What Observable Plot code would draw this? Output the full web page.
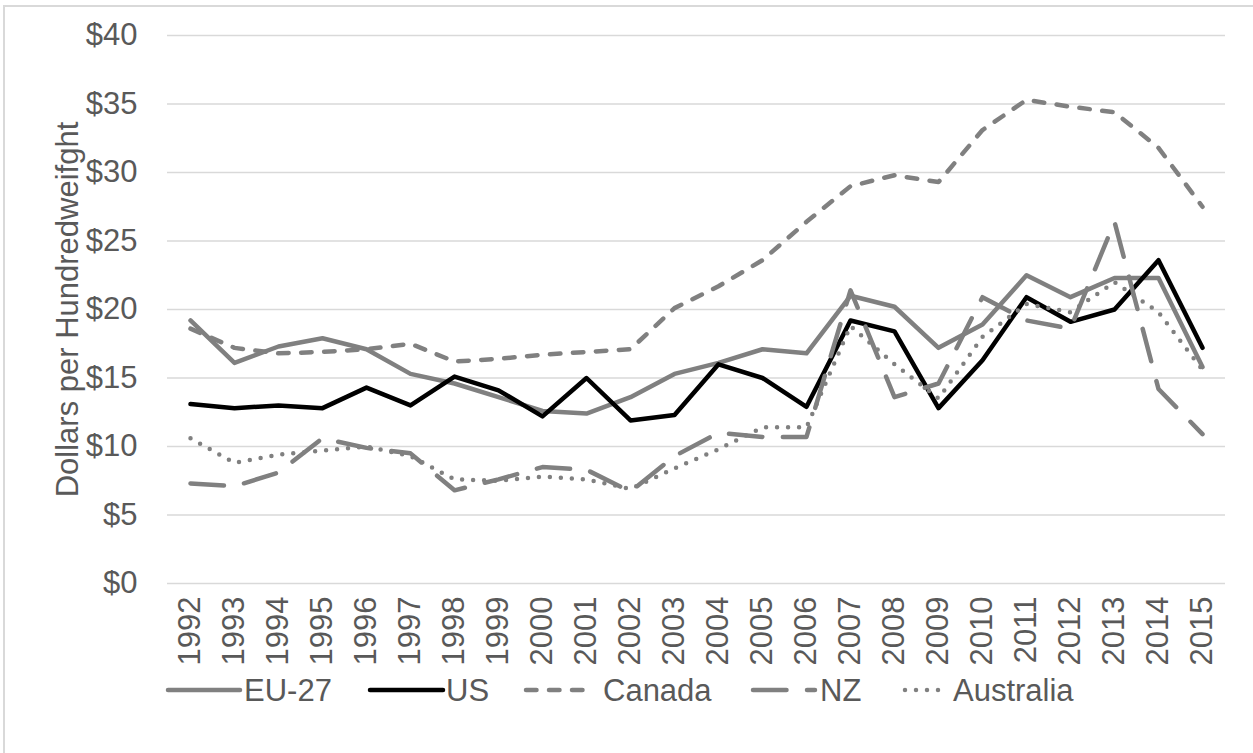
<!DOCTYPE html>
<html>
<head>
<meta charset="utf-8">
<script src="https://cdn.jsdelivr.net/npm/d3@7"></script>
<script src="https://cdn.jsdelivr.net/npm/@observablehq/plot@0.6"></script>
<style>
  html, body { margin: 0; padding: 0; background: #fff; }
  body { width: 1253px; height: 753px; overflow: hidden; position: relative; font-family: "Liberation Sans", Arial, sans-serif; }
  #frame { position: absolute; left: 3px; top: 5px; width: 1300px; height: 800px; border-left: 2px solid #d9d9d9; border-top: 2px solid #d9d9d9; box-sizing: border-box; }
  #chart { position: absolute; left: 0; top: 0; }
  #legend { position: absolute; left: 0; top: 0; }
</style>
</head>
<body>
<div id="frame"></div>
<div id="chart"></div>
<div id="legend"></div>
<script>
// ---- data ----
const years = [1992,1993,1994,1995,1996,1997,1998,1999,2000,2001,2002,2003,2004,2005,2006,2007,2008,2009,2010,2011,2012,2013,2014,2015];
const eu27 = [19.2,16.1,17.3,17.9,17.1,15.3,14.6,13.6,12.6,12.4,13.6,15.3,16.1,17.1,16.8,21.0,20.2,17.2,18.9,22.5,20.9,22.3,22.3,15.8];
const us = [13.1,12.8,13.0,12.8,14.3,13.0,15.1,14.1,12.2,15.0,11.9,12.3,16.0,15.0,12.9,19.2,18.4,12.8,16.3,20.9,19.1,20.0,23.6,17.2];
const canada = [18.6,17.2,16.8,16.9,17.1,17.5,16.2,16.4,16.7,16.9,17.1,20.1,21.7,23.6,26.4,29.0,29.8,29.3,33.1,35.3,34.8,34.4,31.8,27.5];
const nz = [7.3,7.1,8.1,10.6,9.9,9.5,6.8,7.6,8.5,8.3,6.7,9.3,11.0,10.7,10.7,21.4,13.6,14.6,20.9,19.2,18.6,26.4,14.2,10.9];
const australia = [10.6,8.8,9.4,9.7,10.0,9.3,7.6,7.5,7.8,7.6,6.9,8.4,9.8,11.4,11.4,18.8,16.0,13.5,18.0,20.4,19.8,22.0,19.8,15.6];
const seriesNames = ["EU-27","US","Canada","NZ","Australia"];
const yTicks = [0,5,10,15,20,25,30,35,40];
const yLabel = "Dollars per Hundredweifght";

// ---- styles ----
const gray = "#808080";
const styles = {
  "EU-27":     {stroke: gray,   strokeWidth: 4.5, dash: null},
  "US":        {stroke: "#000", strokeWidth: 4.5, dash: null},
  "Canada":    {stroke: gray,   strokeWidth: 4.5, dash: "10.5 12.5"},
  "NZ":        {stroke: gray,   strokeWidth: 4.5, dash: "33.5 20.5"},
  "Australia": {stroke: gray,   strokeWidth: 4.5, dash: "0 11"}
};
const valuesBy = {"EU-27": eu27, "US": us, "Canada": canada, "NZ": nz, "Australia": australia};
const rows = seriesNames.map(name => years.map((yr, i) => ({year: yr, value: valuesBy[name][i], series: name})));

const W = 1253, H = 753;
const FS = 31;
const textColor = "#595959";

const chart = Plot.plot({
  width: W,
  height: H,
  marginLeft: 167,
  marginRight: 28,
  marginTop: 35,
  marginBottom: H - 583,
  style: {fontFamily: "'Liberation Sans', Arial, sans-serif", fontSize: FS + "px", background: "transparent", overflow: "visible"},
  x: {type: "point", domain: years, padding: 0.5},
  y: {domain: [0, 40]},
  marks: [
    Plot.ruleY(yTicks, {stroke: "#d9d9d9", strokeWidth: 1.5}),
    Plot.axisY({ticks: yTicks, tickFormat: d => "$" + d, tickSize: 0, tickPadding: 30, fontSize: FS, color: textColor, label: null}),
    Plot.axisX({tickFormat: d => String(d), tickRotate: -90, tickSize: 0, tickPadding: 13, fontSize: FS, color: textColor, label: null}),
    Plot.text([yLabel], {frameAnchor: "left", textAnchor: "middle", lineAnchor: "middle", rotate: -90, dx: -99, fontSize: FS, fill: textColor}),
    ...rows.map(r => {
      const s = styles[r[0].series];
      return Plot.line(r, {x: "year", y: "value", stroke: s.stroke, strokeWidth: s.strokeWidth,
        strokeDasharray: s.dash || undefined, strokeLinecap: "round", strokeLinejoin: "round"});
    })
  ]
});
document.getElementById("chart").appendChild(chart);

// ---- legend ----
const legendItems = [
  {name: "EU-27", x0: 168, x1: 240, tx: 244},
  {name: "US", x0: 370, x1: 443, tx: 446},
  {name: "Canada", x0: 526, x1: 592, tx: 603},
  {name: "NZ", x0: 753, x1: 815, tx: 820},
  {name: "Australia", x0: 905, x1: 948, tx: 953}
];
const ly = 690;
const lsvg = d3.select("#legend").append("svg").attr("width", W).attr("height", H)
  .style("font-family", "'Liberation Sans', Arial, sans-serif");
legendItems.forEach(it => {
  const s = styles[it.name];
  lsvg.append("line").attr("x1", it.x0).attr("x2", it.x1).attr("y1", ly).attr("y2", ly)
    .attr("stroke", s.stroke).attr("stroke-width", s.strokeWidth)
    .attr("stroke-linecap", "round")
    .attr("stroke-dasharray", s.dash);
  lsvg.append("text").attr("x", it.tx).attr("y", ly).attr("dy", "0.35em")
    .attr("font-size", FS).attr("fill", textColor).text(it.name);
});
</script>
</body>
</html>
